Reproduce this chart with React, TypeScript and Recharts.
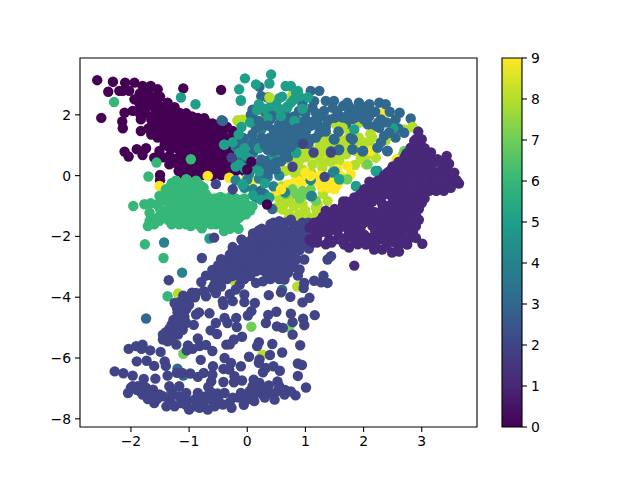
import { BarChart, Bar, ReferenceArea, Scatter, ScatterChart, XAxis, YAxis } from 'recharts';

// viridis colours for digits 0..9
const digitColors = ['#440154', '#482878', '#414487', '#31688e', '#26828e', '#1f9e89', '#35b779', '#6ece58', '#b5de2b', '#fde725'];
const xTicks = [-2, -1, 0, 1, 2, 3];
const yTicks = [-8, -6, -4, -2, 0, 2];
const barTicks = [0, 1, 2, 3, 4, 5, 6, 7, 8, 9];

type Pt = [number, number];

const class0: Pt[] = [[-2.58,3.14],[-2.31,3.09],[-2.39,2.76],[-2.14,2.79],[-2.10,3.06],[-1.94,3.06],[-2.20,2.79],[-2.03,2.79],[-1.80,2.95],[-1.66,2.95],[-1.54,2.84],[-1.10,2.87],[-0.45,2.82],[-2.51,1.90],[-1.94,2.51],[-1.77,2.51],[-1.63,2.57],[-1.74,2.29],[-1.37,2.40],[-2.11,2.07],[-1.97,2.13],[-2.15,1.78],[-2.14,1.56],[-1.83,1.85],[-1.83,1.47],[-1.51,2.02],[-1.40,2.13],[-1.63,1.69],[-1.46,1.69],[-1.17,2.07],[-0.74,1.89],[-0.88,1.80],[-2.11,0.79],[-2.04,0.63],[-1.90,0.87],[-1.80,0.68],[-1.74,0.90],[-1.60,0.59],[-1.51,0.81],[-1.54,1.25],[-1.28,1.36],[-1.34,1.80],[-1.17,1.69],[-1.05,1.91],[-0.99,1.58],[-0.77,1.58],[-0.60,1.58],[-0.42,1.52],[-0.25,1.47],[-1.34,0.65],[-1.34,0.37],[-1.20,0.37],[-1.50,0.02],[-1.50,-0.15],[-1.05,1.25],[-0.88,1.25],[-0.71,1.25],[-0.54,1.25],[-1.17,0.92],[-0.99,0.92],[-0.83,0.92],[-0.65,0.92],[-0.48,0.92],[-0.31,0.81],[-1.05,0.59],[-0.88,0.59],[-0.71,0.59],[-0.54,0.59],[-0.37,0.48],[-0.88,0.26],[-0.71,0.26],[-0.54,0.26],[-0.37,0.21],[-0.60,-0.01],[-0.20,0.15],[-0.37,1.14],[-1.45,1.25],[-1.20,1.10],[-1.10,1.45],[-0.90,1.50],[-0.04,0.48],[0.00,0.46],[-0.05,0.15],[-1.05,0.22],[-1.18,0.15],[-0.75,0.02],[-0.45,0.02],[-0.22,0.75],[-0.18,1.10],[-0.96,1.08],[-0.79,1.08],[-0.62,1.08],[-0.45,1.08],[-0.28,1.05],[-1.08,0.75],[-0.91,0.75],[-0.74,0.75],[-0.57,0.75],[-0.40,0.70],[-0.96,0.42],[-0.79,0.42],[-0.62,0.42],[-0.45,0.42],[-0.28,0.35],[-0.79,0.10],[-0.62,0.10],[-0.45,0.10],[-0.28,0.05],[-0.96,1.42],[-0.79,1.42],[-0.62,1.42],[-0.45,1.38],[-1.35,1.55],[-1.25,1.85],[-1.10,1.70],[-0.95,1.95],[-1.55,1.85],[-1.40,1.50],[-1.65,2.30],[-1.55,2.45],[-1.85,2.35],[-1.45,2.25],[-1.25,2.25],[-1.15,0.75],[-1.25,0.55],[-1.00,0.15],[-0.90,0.05],[-1.30,1.10],[-0.60,1.72],[-0.50,1.68],[-1.00,1.30],[-1.50,1.45],[-1.65,1.35],[-1.42,1.02],[-1.35,0.95],[-1.20,1.55],[-1.05,2.05],[-0.85,1.65],[-0.70,1.75],[-0.95,0.80],[-1.15,0.50],[-1.05,0.35],[-0.92,0.15],[-0.70,0.12],[-0.52,0.12],[-0.30,0.62],[-0.15,0.62],[-0.30,0.95],[-0.10,1.00],[-1.85,2.70],[-1.70,2.70],[-1.50,2.60],[-1.60,2.00],[-1.65,1.85],[-1.75,2.05],[-1.85,2.05],[-1.55,2.20],[-1.30,2.05],[-1.20,1.90],[-1.30,1.65],[-1.55,1.60],[-1.70,1.55],[-1.45,1.40],[-1.30,1.25],[-1.15,1.25],[-1.20,0.90],[-1.10,1.05],[-0.90,1.10],[-1.45,0.60],[-1.30,0.90],[-1.10,0.20],[-1.10,0.05],[-1.00,0.40],[-0.85,0.45],[-0.72,0.45],[-0.60,0.75],[-0.75,1.00],[-0.60,1.25],[-0.40,1.30],[-0.25,1.25],[-0.15,1.20],[-0.20,0.45],[-0.10,0.30],[-0.85,1.35],[-0.70,1.60],[-0.55,1.45],[-0.35,1.60],[-0.95,1.75],[-0.85,1.90]];
const class0Top: Pt[] = [[0.34,-0.95],[0.07,0.46],[-0.00,0.20],[-1.42,1.90]];

const class1: Pt[] = [[2.94,1.45],[2.98,1.03],[2.81,0.92],[3.16,0.76],[3.27,0.54],[3.43,0.65],[3.47,0.39],[3.56,0.10],[3.64,-0.26],[3.53,-0.23],[3.38,-0.50],[3.13,-0.50],[3.24,0.10],[3.07,0.37],[2.90,0.48],[2.75,0.26],[2.96,-0.07],[3.13,-0.12],[3.38,-0.07],[3.44,0.15],[2.70,0.59],[2.58,0.21],[2.41,0.10],[2.24,-0.17],[2.53,-0.28],[2.75,-0.23],[2.96,-0.50],[2.01,-0.45],[1.84,-0.72],[2.15,-0.72],[2.38,-0.61],[2.64,-0.72],[2.84,-0.94],[1.64,-1.00],[1.47,-1.27],[1.24,-1.49],[1.07,-1.71],[1.18,-1.93],[1.87,-1.11],[2.33,-1.22],[2.55,-1.27],[2.75,-1.22],[2.90,-1.66],[1.58,-1.71],[1.81,-1.71],[1.41,-1.60],[1.35,-2.26],[1.55,-2.09],[1.70,-2.04],[1.90,-2.26],[2.27,-1.71],[2.44,-1.60],[2.55,-1.82],[2.81,-1.82],[2.27,-2.09],[2.44,-2.15],[2.73,-2.09],[3.01,-2.24],[1.84,-2.96],[1.75,-2.37],[2.18,-2.10],[2.32,-2.43],[2.49,-2.53],[2.61,-2.50],[2.75,-2.27],[1.67,-2.27],[1.41,-2.10],[1.07,-2.10],[1.24,-1.78],[2.01,-1.94],[1.84,-1.61],[2.44,-1.61],[2.78,-1.12],[2.18,-2.43],[2.04,-2.27],[2.35,-2.10],[1.13,-2.20],[2.73,0.70],[2.87,1.14],[2.50,0.04],[1.98,-0.83],[1.70,-1.27],[2.04,-0.94],[2.50,-0.94],[2.33,-0.28],[2.67,-0.39],[2.33,-1.00],[2.20,-0.50],[2.45,-0.55],[2.70,-0.60],[2.10,-1.30],[1.90,-1.40],[2.20,-1.50],[1.60,-1.45],[1.40,-1.85],[2.60,-1.50],[2.95,-0.20],[3.20,-0.25],[3.30,0.10],[3.05,0.10],[2.85,0.10],[2.70,0.00],[2.85,0.60],[3.00,0.70],[2.45,-0.30],[2.62,-0.30],[2.85,-0.30],[3.05,-0.30],[3.28,-0.30],[3.45,-0.30],[2.28,-0.75],[2.50,-0.75],[2.78,-0.75],[3.05,-0.75],[1.75,-1.10],[1.98,-1.10],[2.45,-1.10],[2.65,-1.10],[2.95,-1.10],[1.45,-1.45],[1.72,-1.45],[2.05,-1.45],[2.35,-1.45],[2.50,-1.45],[2.95,-1.45],[1.30,-1.85],[1.55,-1.85],[1.75,-1.85],[1.90,-1.85],[2.40,-1.85],[2.65,-1.85],[2.85,-1.85],[1.20,-2.20],[1.45,-2.20],[1.65,-2.20],[1.85,-2.20],[2.10,-2.20],[2.55,-2.20],[2.50,0.30],[2.65,0.30],[2.85,0.30],[3.00,0.30],[3.17,0.30],[3.35,0.30],[2.80,0.55],[3.00,0.55],[3.12,0.55],[2.90,0.90],[3.05,0.90],[2.35,0.00],[2.60,0.00],[2.80,0.00],[3.15,0.00],[3.40,0.00],[3.50,0.00],[2.10,-0.50],[2.30,-0.50],[2.55,-0.50],[2.80,-0.50],[3.05,-0.50],[3.25,-0.50],[1.20,-2.05],[1.60,-2.05],[1.80,-2.05],[1.95,-2.05],[2.10,-2.05],[2.30,-2.05],[2.50,-2.05],[2.65,-2.05],[2.80,-2.05],[1.15,-1.70],[1.30,-1.70],[1.50,-1.70],[1.70,-1.70],[1.95,-1.70],[2.40,-1.70],[2.50,-1.70],[2.65,-1.70],[2.80,-1.70],[1.25,-1.55],[1.55,-1.55],[1.70,-1.55],[2.00,-1.55],[2.30,-1.55],[2.60,-1.55],[2.75,-1.55],[2.90,-1.55],[1.55,-1.30],[1.80,-1.30],[2.00,-1.30],[2.30,-1.30],[2.45,-1.30],[2.65,-1.30],[2.90,-1.30],[1.75,-1.00],[1.95,-1.00],[2.40,-1.00],[2.60,-1.00],[2.75,-1.00],[2.90,-1.00],[1.90,-0.85],[2.15,-0.85],[2.30,-0.85],[2.60,-0.85],[2.75,-0.85],[2.95,-0.85],[1.95,-0.60],[2.10,-0.60],[2.30,-0.60],[2.55,-0.60],[2.80,-0.60],[2.95,-0.60],[2.15,-0.40],[2.40,-0.40],[2.60,-0.40],[2.85,-0.40],[3.05,-0.40],[3.20,-0.40],[3.50,-0.40],[2.30,-0.15],[2.45,-0.15],[2.65,-0.15],[2.85,-0.15],[3.05,-0.15],[3.25,-0.15],[3.45,-0.15],[3.60,-0.15],[2.45,0.15],[2.65,0.15],[2.90,0.15],[3.15,0.15],[3.35,0.15],[2.60,0.45],[2.80,0.45],[3.05,0.45],[3.20,0.45],[3.35,0.45],[2.75,0.75],[2.90,0.75],[3.05,0.75],[2.90,1.20],[3.00,1.20],[1.35,-1.15],[1.50,-1.10],[1.65,-0.85],[1.80,-0.90],[1.95,-1.20],[2.10,-1.10],[2.20,-1.20],[2.15,-1.65],[2.30,-1.90],[2.05,-2.05],[2.20,-1.85],[2.65,-1.45],[2.75,-1.40],[2.60,-1.20],[2.50,-1.15],[2.90,-2.05],[1.55,-1.15],[1.30,-1.35],[1.15,-1.55],[2.10,-0.20],[2.20,-0.30],[2.05,-0.70],[1.70,-0.85],[2.25,-1.75],[2.40,-2.30],[2.60,-2.30],[2.20,-2.25],[2.00,-2.10],[2.90,-0.70],[3.00,-0.90]];

const class2: Pt[] = [[-2.28,-6.44],[-2.13,-6.50],[-1.97,-6.58],[-2.04,-5.70],[-1.91,-5.61],[-1.80,-5.56],[-1.82,-5.70],[-1.67,-5.75],[-1.49,-5.80],[-1.90,-6.11],[-1.73,-6.09],[-1.60,-6.26],[-1.42,-6.11],[-1.40,-6.26],[-1.78,-6.69],[-1.58,-6.68],[-1.37,-6.58],[-1.21,-6.49],[-1.12,-6.49],[-0.98,-6.51],[-0.85,-6.62],[-0.75,-6.49],[-0.59,-6.27],[-0.80,-6.06],[-1.02,-5.59],[-1.04,-5.75],[-0.85,-5.36],[-0.94,-5.70],[-0.82,-5.61],[-0.71,-5.57],[-0.60,-5.77],[-0.63,-5.09],[-0.52,-5.21],[-0.92,-4.91],[-0.88,-4.57],[-0.83,-4.50],[-0.65,-4.53],[-0.41,-4.25],[-1.14,-4.74],[-1.08,-4.65],[-1.11,-5.07],[-1.25,-5.01],[-1.34,-5.04],[-1.45,-5.23],[-1.45,-5.39],[-1.37,-5.45],[-1.22,-5.56],[-1.31,-5.28],[-1.19,-5.23],[-1.14,-4.30],[-1.04,-4.08],[-1.21,-4.35],[-1.25,-4.19],[-0.88,-3.86],[-0.71,-3.97],[-0.54,-3.86],[-0.25,-4.13],[-0.42,-4.13],[-0.05,-3.91],[-0.05,-4.16],[0.13,-4.19],[0.07,-4.46],[0.01,-4.60],[-0.39,-4.68],[-0.54,-4.85],[-0.34,-4.85],[-0.19,-4.68],[-0.18,-4.98],[-0.36,-5.56],[-0.23,-5.39],[-0.09,-5.30],[-0.30,-5.55],[-0.39,-6.00],[-0.28,-6.16],[-0.41,-6.36],[-0.31,-6.38],[-0.11,-6.27],[0.03,-5.96],[0.20,-5.48],[0.17,-5.61],[0.43,-5.54],[0.32,-4.85],[0.36,-4.58],[0.50,-4.48],[0.51,-4.96],[0.61,-5.01],[0.78,-5.23],[0.75,-4.54],[0.78,-4.82],[0.96,-4.71],[0.98,-4.92],[1.16,-4.59],[0.91,-5.58],[0.60,-5.82],[0.39,-5.90],[0.21,-6.05],[0.20,-6.16],[0.27,-6.47],[0.32,-6.33],[0.45,-6.27],[0.56,-6.42],[0.87,-6.18],[0.94,-6.23],[0.87,-6.59],[1.01,-6.97],[0.83,-7.23],[0.75,-7.10],[0.64,-7.20],[0.52,-6.77],[0.55,-6.93],[0.37,-6.90],[0.27,-7.09],[0.12,-7.42],[0.21,-6.82],[0.11,-6.71],[-0.09,-6.74],[-0.23,-6.80],[-0.22,-6.60],[-0.41,-6.79],[-0.60,-6.55],[-0.62,-6.77],[-0.67,-6.95],[-1.34,-6.93],[-1.17,-6.93],[-1.97,-6.93],[-2.05,-7.15],[-2.00,-6.98],[-1.88,-6.93],[-1.85,-7.09],[-1.71,-7.35],[-1.60,-7.48],[-1.45,-7.26],[-1.39,-7.59],[-1.25,-7.59],[-1.14,-7.48],[-1.00,-7.70],[-0.91,-7.37],[-0.82,-7.64],[-0.71,-7.26],[-0.68,-7.70],[-0.56,-7.59],[-0.42,-7.53],[-0.27,-7.64],[-0.06,-7.54],[-0.25,-7.31],[-0.11,-7.15],[0.04,-7.09],[0.27,-7.20],[0.47,-7.37],[-0.51,-7.17],[-0.39,-7.15],[-1.62,-7.04],[-1.74,-6.98],[-1.28,-7.20],[-1.05,-7.37],[-1.51,-7.20],[-1.68,-7.26],[-1.34,-7.37],[-1.17,-7.26],[-0.82,-7.37],[-0.59,-7.42],[-0.88,-7.59],[-0.02,-7.26],[0.15,-7.15],[0.38,-7.15],[0.09,-6.93],[0.21,-6.98],[0.52,-7.09],[0.64,-3.42],[0.58,-3.84],[0.74,-3.99],[0.95,-4.17],[1.07,-4.02],[0.37,-3.93],[0.97,-3.70],[0.98,-3.53],[1.15,-3.46],[1.31,-3.29],[1.27,-3.51],[1.38,-3.53],[0.87,-3.29],[0.90,-3.09],[0.98,-2.76],[1.38,-2.76],[1.44,-2.65],[1.06,-2.40],[-1.35,-3.44],[-0.78,-2.71],[-0.79,-3.50],[-0.71,-3.29],[-0.56,-3.59],[-0.13,-3.59],[0.15,-3.53],[0.27,-3.48],[0.35,-3.29],[-0.94,-3.91],[-0.50,-3.00],[-0.45,-3.25],[-0.40,-2.80],[-0.30,-3.10],[-0.30,-2.60],[-0.20,-2.90],[-0.15,-3.30],[-0.15,-2.50],[-0.05,-2.75],[0.00,-3.05],[0.00,-2.30],[0.05,-3.30],[0.10,-2.55],[0.15,-2.85],[0.15,-2.15],[0.25,-2.35],[0.25,-3.10],[0.30,-2.65],[0.35,-1.95],[0.40,-2.20],[0.45,-2.90],[0.45,-2.50],[0.50,-1.80],[0.55,-2.10],[0.60,-2.70],[0.60,-2.35],[0.70,-1.85],[0.70,-2.15],[0.75,-2.55],[0.80,-3.00],[0.85,-2.30],[0.85,-1.65],[0.95,-1.90],[1.00,-2.20],[1.05,-1.55],[0.70,-3.20],[0.55,-3.10],[-0.60,-3.30],[-0.25,-2.35],[-0.10,-2.10],[0.10,-1.90],[0.25,-1.75],[0.40,-1.60],[0.55,-1.50],[0.75,-1.45],[-0.57,-2.04],[-0.35,-2.85],[-0.25,-2.75],[-0.10,-2.95],[-0.10,-2.40],[0.05,-2.65],[0.05,-2.15],[0.20,-2.70],[0.20,-2.05],[0.30,-2.90],[0.30,-1.90],[0.40,-2.40],[0.45,-1.85],[0.50,-2.70],[0.55,-2.30],[0.60,-1.90],[0.65,-2.55],[0.70,-2.90],[0.80,-1.70],[0.80,-2.40],[0.90,-2.10],[0.95,-1.70],[-0.40,-3.05],[-0.25,-3.30],[-0.05,-3.20],[0.15,-3.15],[0.40,-3.10],[0.55,-2.90],[0.35,-2.70],[0.20,-2.45],[0.00,-2.55],[-0.20,-2.65],[-0.30,-2.90],[-0.50,-3.20],[-0.60,-3.10],[-1.30,-4.90],[-1.20,-4.85],[-1.40,-5.15],[-1.30,-5.40],[-1.15,-5.10],[-1.20,-4.50],[-1.05,-4.40],[-1.00,-4.25],[-0.90,-4.00],[-0.75,-3.80],[-0.60,-3.70],[-0.45,-3.65],[-0.30,-3.90],[-0.20,-3.75],[-1.90,-7.05],[-1.80,-7.20],[-1.55,-7.35],[-1.30,-7.50],[-1.05,-7.55],[-0.75,-7.50],[-0.50,-7.35],[-0.30,-7.45],[-0.15,-7.30],[-0.60,-7.15],[-0.85,-7.15],[-1.05,-7.15],[-1.30,-7.10],[-1.60,-7.25],[0.30,-7.30],[0.05,-7.35],[0.35,-6.95],[0.65,-7.05],[-0.50,-3.40],[-0.35,-3.40],[-0.05,-3.40],[0.40,-3.40],[0.55,-3.40],[-0.55,-3.15],[-0.35,-3.15],[-0.20,-3.15],[0.10,-3.15],[0.30,-3.15],[0.50,-3.15],[0.60,-3.15],[-0.50,-2.95],[-0.15,-2.95],[0.05,-2.95],[0.25,-2.95],[0.40,-2.95],[0.60,-2.95],[0.75,-2.95],[-0.45,-2.75],[-0.10,-2.75],[0.10,-2.75],[0.40,-2.75],[0.60,-2.75],[0.70,-2.75],[0.85,-2.75],[-0.25,-2.45],[0.10,-2.45],[0.30,-2.45],[0.50,-2.45],[0.70,-2.45],[0.90,-2.45],[-0.05,-2.20],[0.10,-2.20],[0.30,-2.20],[0.50,-2.20],[0.75,-2.20],[0.95,-2.20],[1.10,-2.20],[0.10,-2.00],[0.25,-2.00],[0.45,-2.00],[0.60,-2.00],[0.80,-2.00],[1.05,-2.00],[0.20,-1.80],[0.35,-1.80],[0.60,-1.80],[0.90,-1.80],[0.45,-1.55],[0.65,-1.55],[0.95,-1.55],[-1.27,-4.75],[-1.05,-4.85],[-1.35,-5.25],[-1.10,-4.60],[-1.15,-4.15],[-1.10,-3.95],[-0.95,-3.85]];
const class2Top: Pt[] = [[0.78,0.29],[1.14,0.76],[1.44,0.76],[1.33,-0.04],[0.96,1.05],[-0.27,0.59],[-0.25,-0.45],[-0.54,-0.28]];

const class3: Pt[] = [[1.09,2.79],[1.24,2.79],[1.35,2.46],[1.49,2.46],[1.72,2.40],[1.92,2.40],[2.10,2.35],[2.27,2.40],[2.38,2.35],[2.62,2.07],[2.55,1.85],[2.81,1.88],[2.70,1.41],[2.55,1.25],[2.41,0.81],[2.24,0.92],[2.27,1.58],[2.44,1.41],[2.21,0.15],[1.12,2.24],[1.32,2.13],[1.55,2.13],[1.75,2.07],[1.98,2.07],[1.15,1.80],[1.38,1.80],[1.64,1.91],[0.89,2.13],[0.66,1.91],[0.78,1.47],[1.01,1.47],[1.24,1.41],[0.61,1.14],[0.72,0.81],[0.89,1.25],[1.18,1.25],[1.57,1.45],[1.49,1.20],[1.81,1.20],[1.57,0.84],[1.81,0.87],[1.99,0.81],[2.07,1.69],[0.55,1.69],[0.32,1.73],[0.55,1.51],[0.78,1.51],[0.38,1.24],[0.61,1.08],[0.84,1.19],[0.44,0.80],[0.49,0.20],[0.58,0.47],[0.24,0.53],[0.15,1.08],[-0.08,1.19],[0.15,1.57],[0.06,2.00],[0.32,2.06],[0.52,2.00],[1.01,1.84],[1.18,2.06],[1.47,2.23],[1.75,2.28],[1.98,2.28],[1.24,1.62],[1.50,1.19],[1.78,1.24],[1.98,0.80],[1.44,0.80],[1.58,0.86],[1.81,0.86],[0.09,2.17],[0.24,2.61],[0.09,2.02],[0.35,2.57],[-0.42,1.80],[0.20,1.63],[0.43,2.02],[0.49,1.25],[0.09,1.36],[-0.08,1.25],[0.32,1.03],[0.09,1.03],[0.32,0.48],[0.15,-0.72],[0.43,-1.10],[0.23,-0.50],[0.21,2.92],[-1.74,-4.70],[-1.20,-6.35],[-1.10,-6.58],[0.60,-3.75],[-0.44,1.82],[0.95,1.65],[0.70,1.75],[1.05,1.05],[0.80,0.95],[0.35,0.85],[-0.15,0.90],[0.00,0.60],[0.55,1.25],[0.70,1.30],[0.45,1.50],[0.65,1.60],[0.90,1.60],[1.10,1.65],[1.35,1.60],[0.40,1.85],[0.65,2.10],[0.80,1.95],[1.00,2.05],[1.25,1.95],[1.50,1.90],[1.80,1.85],[2.00,1.85],[2.20,2.10],[2.45,2.10],[2.30,1.85],[2.50,1.65],[1.15,2.45],[0.95,2.35],[1.65,2.30],[1.85,2.15],[2.05,2.20],[0.25,1.25],[0.25,0.95],[0.45,1.05],[0.70,0.60],[0.60,0.85],[0.40,0.55],[0.10,0.75],[0.20,0.30],[0.35,0.05],[-0.10,0.55],[1.35,1.45],[1.10,1.20],[0.95,1.05],[0.75,1.10],[1.70,1.70],[2.15,1.60],[2.35,1.30],[2.60,1.55],[2.30,1.10]];
const class3Top: Pt[] = [[1.57,1.45],[1.81,1.20],[1.57,0.84],[1.99,0.81],[1.49,1.20],[2.27,1.58],[2.44,1.41],[2.41,0.81],[0.44,0.80],[0.58,0.47],[0.50,1.00],[0.70,1.20],[0.60,1.40],[0.40,1.15],[0.30,1.00],[0.55,0.85],[0.75,0.95],[0.90,1.35],[1.00,1.30],[0.85,1.55],[0.65,0.70],[0.50,0.45],[0.35,0.30],[1.05,1.60],[1.20,1.75],[1.40,1.85],[1.60,1.95],[1.85,1.90],[2.10,1.95],[2.25,1.75],[2.40,1.75],[0.20,1.80],[0.35,1.65]];

const class4: Pt[] = [[-1.12,-3.19],[-1.43,-2.20],[0.09,2.00],[0.55,2.00],[0.24,1.51],[1.10,-0.68],[1.50,0.14],[1.87,-0.35],[0.00,-0.13],[0.24,-0.79],[0.89,1.79],[2.24,0.92],[2.24,0.15],[2.41,0.81],[1.47,0.10],[1.09,-0.15],[1.11,-0.67],[0.03,0.04],[-0.59,-3.15],[0.65,-0.55],[0.45,-0.35],[0.55,0.00],[-0.05,-0.40],[0.20,-0.10],[-0.20,-0.15],[0.35,-0.05],[0.30,-0.60],[0.10,-0.45],[0.00,1.20],[-0.20,0.95]];

const class5: Pt[] = [[-0.04,3.20],[-0.14,2.84],[-0.11,2.46],[0.15,3.00],[0.41,3.33],[0.38,3.03],[-1.14,2.57],[-0.89,2.35],[-0.40,1.02],[0.17,2.16],[-0.14,0.37],[-0.04,0.68],[-0.08,-0.28],[-0.42,-0.94],[0.41,2.29],[0.49,2.35],[0.66,2.95],[0.75,2.95],[0.87,2.79],[0.81,1.80],[1.84,1.52],[2.51,1.56],[1.58,-0.12],[1.87,-0.34],[1.92,-0.67],[0.84,0.76],[2.21,0.15],[0.69,2.24],[0.58,1.96],[1.04,2.57],[-0.11,2.48],[0.44,2.34],[0.69,2.28],[0.84,2.72],[-0.39,1.02],[-0.14,0.75],[0.09,0.25],[0.84,0.75],[-0.08,-0.30],[0.24,-0.79],[-0.37,-0.95],[-0.14,-1.00],[-0.65,-2.07],[0.55,2.55],[0.30,-0.25],[0.45,0.65],[0.10,-0.65],[0.38,-0.72],[-0.10,1.60],[0.05,1.75],[0.30,2.20],[0.20,2.35],[0.35,1.90],[0.60,2.60],[0.75,2.40],[0.55,2.20],[0.80,2.50],[0.90,2.60],[0.95,2.20],[-0.25,1.10],[-0.15,1.35],[-0.05,0.90],[0.20,0.90],[0.50,0.70],[-0.20,0.30],[0.05,0.55],[-0.05,0.25],[0.20,0.15]];

const class6: Pt[] = [[-2.29,2.42],[-1.96,-1.00],[-1.77,-0.94],[-1.66,-0.91],[-1.70,-0.03],[-1.56,0.43],[-0.97,0.54],[-1.71,-1.66],[-1.68,-1.22],[-1.68,-1.49],[-1.51,-1.49],[-1.34,-1.49],[-1.17,-1.60],[-0.97,-1.66],[-0.78,-1.73],[-1.51,-0.67],[-1.40,-0.45],[-1.23,-0.17],[-1.05,-0.12],[-0.88,-0.17],[-1.40,-0.83],[-1.23,-0.50],[-1.05,-0.50],[-0.88,-0.50],[-0.71,-0.61],[-1.23,-0.83],[-1.05,-0.83],[-0.88,-0.83],[-0.71,-0.94],[-0.54,-1.05],[-1.40,-1.16],[-1.23,-1.16],[-1.05,-1.16],[-0.88,-1.16],[-0.71,-1.27],[-0.54,-1.38],[-0.37,-1.49],[-0.20,-1.49],[-0.02,-1.27],[0.09,-1.00],[-0.37,-0.83],[-0.20,-0.83],[-0.02,-0.94],[-0.37,-1.16],[-0.20,-1.16],[-1.05,-1.49],[-0.88,-1.49],[-0.71,-1.55],[-0.54,-1.60],[-0.40,-1.82],[-1.76,-2.26],[-1.44,-2.71],[-1.37,-3.97],[-0.57,-3.59],[-0.15,-1.75],[-0.55,-0.75],[-1.35,-0.65],[-1.55,-0.95],[-0.30,-1.75],[-1.14,-0.33],[-0.97,-0.33],[-0.80,-0.33],[-1.31,-0.66],[-1.14,-0.66],[-0.97,-0.66],[-0.80,-0.66],[-0.63,-0.75],[-1.31,-1.00],[-1.14,-1.00],[-0.97,-1.00],[-0.80,-1.00],[-0.63,-1.10],[-0.46,-1.00],[-0.29,-1.00],[-0.11,-1.10],[-1.31,-1.33],[-1.14,-1.33],[-0.97,-1.33],[-0.80,-1.33],[-0.63,-1.45],[-0.46,-1.30],[-0.29,-1.33],[-0.11,-1.33],[-1.42,-1.33],[-1.14,-1.55],[-0.62,-1.60],[-0.46,-0.70],[-0.29,-0.70],[-0.11,-0.80],[0.05,-1.15],[-1.31,-0.33],[-1.45,-0.65],[-1.50,-1.30],[-1.30,-0.25],[-1.15,-0.25],[-1.00,-0.25],[-0.85,-0.25],[-1.32,-0.40],[-1.15,-0.40],[-0.95,-0.40],[-0.75,-0.40],[-1.45,-0.75],[-1.15,-0.75],[-0.95,-0.75],[-0.75,-0.75],[-0.55,-0.85],[-0.40,-0.75],[-0.20,-0.75],[-0.05,-0.75],[-1.50,-1.10],[-1.30,-1.10],[-1.15,-1.10],[-0.95,-1.10],[-0.80,-1.10],[-0.62,-1.20],[-0.45,-1.10],[-0.30,-1.10],[-0.10,-1.20],[0.05,-1.05],[-1.55,-1.40],[-1.40,-1.40],[-1.20,-1.40],[-1.00,-1.40],[-0.80,-1.40],[-0.60,-1.30],[-0.45,-1.40],[-0.30,-1.40],[-0.15,-1.40],[-1.60,-1.60],[-1.30,-1.60],[-1.05,-1.60],[-0.85,-1.60],[-0.45,-1.60],[-0.30,-1.60]];

const class7: Pt[] = [[2.70,0.81],[2.68,0.70],[0.95,-0.50],[0.84,-0.61],[1.09,-0.45],[1.18,-0.83],[1.61,-0.12],[1.72,-0.12],[2.07,0.37],[0.66,-0.61],[-1.10,-5.86],[0.07,-4.97],[0.72,-5.00],[0.38,-2.24],[0.90,-0.75],[1.02,-0.62],[0.78,-0.45]];

const class8: Pt[] = [[0.95,2.54],[0.78,2.57],[1.41,1.25],[1.52,1.69],[1.64,1.58],[1.92,1.74],[2.07,1.85],[2.12,1.36],[2.38,1.16],[2.84,1.60],[2.70,1.52],[1.64,1.14],[1.35,0.98],[1.21,0.70],[1.07,0.92],[1.58,0.48],[1.41,0.48],[1.12,0.37],[0.89,0.48],[0.81,0.10],[1.29,0.26],[1.87,0.81],[2.04,0.37],[2.21,0.59],[1.92,1.25],[1.38,-0.83],[1.07,-1.38],[0.72,-0.83],[0.72,-1.27],[1.18,-1.05],[0.89,-1.27],[0.84,-1.49],[-0.17,1.82],[-0.08,1.84],[0.29,2.07],[0.38,2.57],[-0.16,1.79],[0.78,2.67],[0.75,0.47],[0.87,0.47],[0.95,0.80],[1.12,0.69],[1.58,1.46],[0.72,-0.84],[0.61,-1.12],[1.21,-0.95],[-0.48,-1.22],[0.43,-1.71],[1.40,0.75],[1.70,0.95],[1.25,1.00],[0.95,-0.95],[0.55,-0.75],[0.85,-0.20],[0.65,0.15],[1.50,0.30],[-1.19,-3.88],[0.26,-5.89],[0.86,-3.65],[-0.21,-3.49],[1.25,0.55],[1.50,0.65],[1.70,0.70],[1.35,0.80],[1.60,0.95],[1.85,1.05],[1.75,1.30],[1.35,1.25],[1.45,1.05],[2.00,1.10],[2.10,1.05],[2.15,1.25],[1.75,1.50],[1.00,0.60],[0.95,0.20],[1.10,0.10],[1.30,0.40],[1.55,0.60],[1.95,0.55],[1.85,0.35],[2.05,0.65],[0.65,-0.90],[0.80,-1.00],[1.00,-1.15],[1.20,-1.20],[1.30,-0.60],[0.70,-0.60],[0.90,-0.10],[0.75,0.20],[0.50,-1.05],[0.95,-1.50],[0.70,-1.45],[0.60,-0.35]];
const class8Top: Pt[] = [[2.84,1.60],[2.12,1.36],[0.38,2.57],[1.64,1.58],[0.81,0.10],[1.07,-1.38]];

const class9: Pt[] = [[2.34,2.07],[2.57,0.54],[2.12,0.81],[0.58,-0.45],[0.81,-0.23],[1.09,-0.01],[1.41,-0.40],[1.55,0.21],[1.72,0.32],[1.78,0.04],[1.18,-0.17],[1.32,-0.17],[1.50,-0.45],[0.49,-0.50],[-1.51,-0.34],[0.09,-0.23],[-0.02,-0.12],[-0.31,-0.07],[-0.68,-0.01],[0.52,-0.46],[1.45,0.00],[1.00,0.10],[1.28,-0.38],[0.95,-0.20],[1.25,0.00],[1.40,-0.15],[1.60,0.00],[0.85,-0.15],[1.55,-0.30],[0.70,-0.30]];
const class9Top: Pt[] = [[2.57,0.54],[0.58,-0.45],[1.41,-0.40],[1.09,-0.01],[1.32,-0.17]];

// draw order: matplotlib draws in sample order, this is a rough stand-in
const layers: [number, Pt[]][] = [
  [0, class0], [8, class8], [9, class9], [7, class7], [4, class4], [3, class3], [5, class5],
  [9, class9Top], [8, class8Top], [3, class3Top], [6, class6], [2, class2], [1, class1], [2, class2Top], [0, class0Top],
];

const toRows = (pts: Pt[]) => pts.map(([x, y]) => ({ x, y }));
const minus = (v: number) => String(v).replace('-', '\u2212');

const tickStyle = { fontFamily: 'DejaVu Sans', fontSize: 13.9, fill: '#000' };
const tickLine = { stroke: '#000', strokeWidth: 1.1 };
const xDomain: [number, number] = [-2.876, 3.95];
const yDomain: [number, number] = [-8.27, 3.87];

export default function App() {
  return (
    <div style={{ position: 'absolute', left: 0, top: 0, width: 640, height: 480, background: '#fff' }}>
      <div style={{ position: 'absolute', left: 0, top: 0 }}>
        <ScatterChart width={640} height={480} margin={{ top: 58, right: 163, bottom: 23, left: 30 }}>
          <XAxis
            type="number"
            dataKey="x"
            domain={xDomain}
            ticks={xTicks}
            allowDataOverflow
            height={30}
            tick={tickStyle}
            tickFormatter={minus}
            tickLine={tickLine}
            tickSize={5}
            tickMargin={4}
            axisLine={false}
          />
          <YAxis
            type="number"
            dataKey="y"
            domain={yDomain}
            ticks={yTicks}
            allowDataOverflow
            width={50}
            tick={tickStyle}
            tickFormatter={minus}
            tickLine={tickLine}
            tickSize={5}
            tickMargin={4}
            axisLine={false}
          />
          {layers.map(([digit, pts], i) => (
            <Scatter
              key={i}
              data={toRows(pts)}
              fill={digitColors[digit]}
              isAnimationActive={false}
              shape={(p: any) => <circle cx={p.cx} cy={p.cy} r={5.2} fill={digitColors[digit]} />}
            />
          ))}
          <ReferenceArea x1={xDomain[0]} x2={xDomain[1]} y1={yDomain[0]} y2={yDomain[1]} fill="none" stroke="#000" strokeWidth={1.1} />
        </ScatterChart>
      </div>
      <div style={{ position: 'absolute', left: 0, top: 0 }}>
        <BarChart width={640} height={480} data={[{ v: 9 }]} margin={{ top: 58, right: 88, bottom: 53, left: 502 }} barCategoryGap={0}>
          <defs>
            <linearGradient id="viridis" x1="0" y1="1" x2="0" y2="0">
              {digitColors.map((c, i) => (
                <stop key={c} offset={`${(i / 9) * 100}%`} stopColor={c} />
              ))}
            </linearGradient>
          </defs>
          <XAxis hide />
          <YAxis
            orientation="right"
            type="number"
            domain={[0, 9]}
            ticks={barTicks}
            width={30}
            tick={tickStyle}
            tickLine={tickLine}
            tickSize={5}
            tickMargin={4}
            axisLine={false}
          />
          <Bar dataKey="v" fill="url(#viridis)" stroke="#000" strokeWidth={1.1} isAnimationActive={false} />
        </BarChart>
      </div>
    </div>
  );
}
